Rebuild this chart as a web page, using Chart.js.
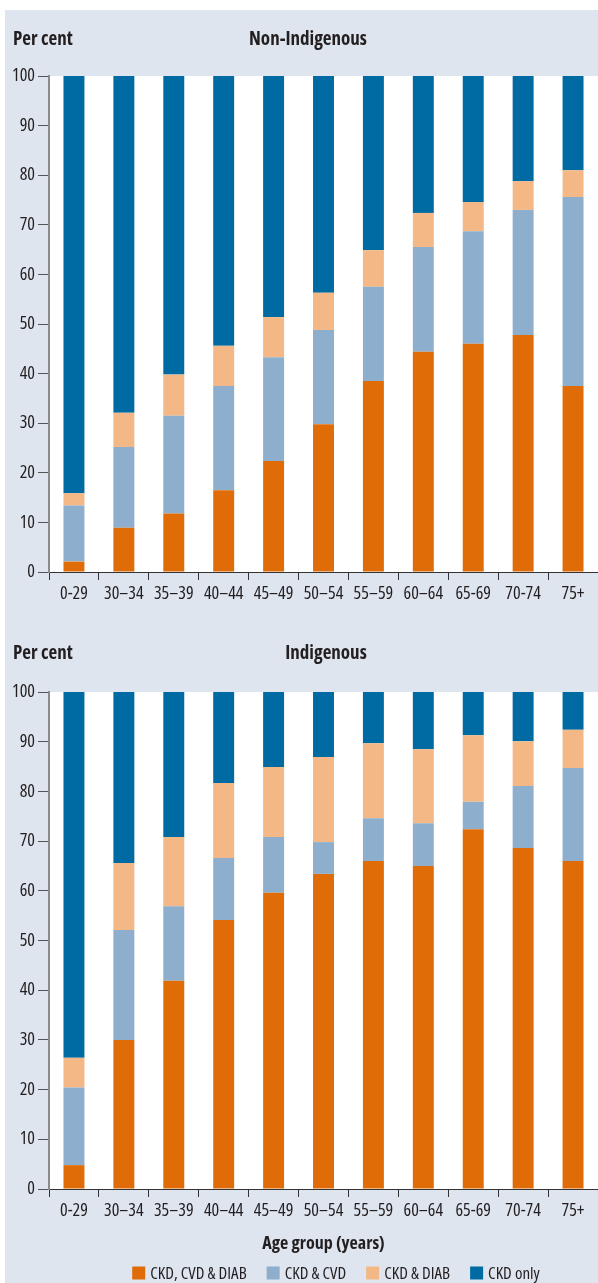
<!DOCTYPE html>
<html>
<head>
<meta charset="utf-8">
<script src="https://cdn.jsdelivr.net/npm/chart.js@4.4.1/dist/chart.umd.min.js"></script>
<style>
html,body{margin:0;padding:0;background:#ffffff;width:598px;height:1283px;overflow:hidden}
#panel{position:absolute;left:5px;top:10px;width:593px;height:1273px;background:#dfe5ef}
#w1{position:absolute;left:5px;top:10px;width:593px;height:600px}
#w2{position:absolute;left:5px;top:610px;width:593px;height:673px}
canvas{display:block}
</style>
</head>
<body>
<div id="panel"></div>
<div id="w1"><canvas id="c1" width="593" height="600"></canvas></div>
<div id="w2"><canvas id="c2" width="593" height="673"></canvas></div>
<script>
// ---- data ----
const ageGroups = ['0-29', '30\u201334', '35\u201339', '40\u201344', '45\u201349', '50\u201354', '55\u201359', '60\u201364', '65-69', '70-74', '75+'];
const seriesNames = ['CKD, CVD & DIAB', 'CKD & CVD', 'CKD & DIAB', 'CKD only'];
const seriesColors = ['#e06c08', '#8dafcd', '#f3b886', '#006ba3'];
const yTickValues = [0, 10, 20, 30, 40, 50, 60, 70, 80, 90, 100];

// Non-Indigenous (per cent)
const nonIndigCkdCvdDiab = [2.1, 8.9, 11.8, 16.5, 22.4, 29.8, 38.5, 44.4, 46.0, 47.8, 37.5];
const nonIndigCkdCvd     = [11.3, 16.3, 19.7, 21.0, 20.9, 19.0, 19.0, 21.1, 22.7, 25.2, 38.1];
const nonIndigCkdDiab    = [2.5, 6.9, 8.3, 8.1, 8.1, 7.5, 7.4, 6.9, 5.9, 5.8, 5.4];
const nonIndigCkdOnly    = [84.1, 67.9, 60.2, 54.4, 48.6, 43.7, 35.1, 27.6, 25.4, 21.2, 19.0];

// Indigenous (per cent)
const indigCkdCvdDiab = [4.8, 30.0, 41.9, 54.1, 59.6, 63.4, 66.0, 65.0, 72.4, 68.6, 66.0];
const indigCkdCvd     = [15.6, 22.1, 15.0, 12.5, 11.2, 6.4, 8.6, 8.6, 5.5, 12.5, 18.7];
const indigCkdDiab    = [6.0, 13.5, 13.9, 15.1, 14.1, 17.1, 15.1, 14.9, 13.4, 9.0, 7.7];
const indigCkdOnly    = [73.6, 34.4, 29.2, 18.3, 15.1, 13.1, 10.3, 11.5, 8.7, 9.9, 7.6];

// ---- styling ----
const FONT = "'Open Sans', 'DejaVu Sans Condensed', sans-serif";
const TEXT = '#231f20';

function makeDatasets(arrays) {
  return arrays.map((vals, i) => ({
    label: seriesNames[i],
    data: vals,
    backgroundColor: seriesColors[i],
    borderWidth: 0,
    barPercentage: 0.42,
    categoryPercentage: 1.0
  }));
}

const panelPlugin = {
  id: 'panelText',
  beforeDraw(chart) {
    const { ctx, chartArea: a } = chart;
    ctx.save();
    ctx.fillStyle = '#ffffff';
    ctx.fillRect(a.left, a.top, a.right - a.left, a.bottom - a.top);
    ctx.restore();
  },
  afterDraw(chart, args, opts) {
    const { ctx } = chart;
    ctx.save();
    ctx.fillStyle = TEXT;
    ctx.font = 'bold condensed 19px ' + FONT;
    ctx.textBaseline = 'alphabetic';
    ctx.textAlign = 'left';
    ctx.fillText(opts.yLabel, opts.yLabelX, opts.baseY);
    ctx.textAlign = 'center';
    ctx.fillText(opts.title, opts.titleX, opts.baseY);
    if (opts.legend) {
      const L = opts.legend;
      ctx.font = 'condensed ' + L.fontSize + 'px ' + FONT;
      const items = chart.data.datasets.map(d => ({ text: d.label, color: d.backgroundColor, w: ctx.measureText(d.label).width }));
      const total = items.reduce((s, it) => s + L.box + L.boxGap + it.w, 0) + L.itemGap * (items.length - 1);
      let x = L.centerX - total / 2;
      ctx.textAlign = 'left';
      ctx.textBaseline = 'middle';
      items.forEach(it => {
        ctx.fillStyle = it.color;
        ctx.fillRect(x, L.y - L.box / 2, L.box, L.box);
        x += L.box + L.boxGap;
        ctx.fillStyle = TEXT;
        ctx.fillText(it.text, x, L.y + 1);
        x += it.w + L.itemGap;
      });
    }
    ctx.restore();
  }
};

function makeChart(canvasId, arrays, cfg) {
  const xScale = {
    stacked: true,
    offset: true,
    grid: { display: true, drawOnChartArea: false, drawTicks: true, tickLength: 8, tickColor: '#333333', offset: true, lineWidth: 1 },
    border: { display: true, color: '#333333', width: 1 },
    ticks: { color: TEXT, font: { family: FONT, size: 18, weight: 'condensed' }, padding: 3, maxRotation: 0, autoSkip: false },
    afterFit(s) { s.height = cfg.xHeight; }
  };
  if (cfg.xTitle) {
    xScale.title = { display: true, text: cfg.xTitle, color: TEXT, font: { family: FONT, size: 18, weight: 'bold condensed' }, padding: { top: 4, bottom: 0 } };
  }
  return new Chart(document.getElementById(canvasId), {
    type: 'bar',
    data: { labels: ageGroups, datasets: makeDatasets(arrays) },
    options: {
      responsive: false,
      animation: false,
      devicePixelRatio: 1,
      layout: { padding: { top: cfg.padTop, bottom: cfg.padBottom, left: 0, right: 0 } },
      plugins: {
        legend: { display: false },
        tooltip: { enabled: false },
        title: { display: false },
        panelText: { yLabel: 'Per cent', yLabelX: 8, baseY: cfg.baseY, title: cfg.title, titleX: cfg.titleX, legend: cfg.legend || null }
      },
      scales: {
        x: xScale,
        y: {
          stacked: true,
          min: 0,
          max: 100,
          afterBuildTicks(s) { s.ticks = yTickValues.map(v => ({ value: v })); },
          grid: { display: true, drawOnChartArea: false, drawTicks: true, tickLength: 11, tickColor: '#555555', lineWidth: 1 },
          border: { display: true, color: '#8a8a8a', width: 2 },
          ticks: { color: TEXT, font: { family: FONT, size: 18, weight: 'condensed' }, padding: 3 },
          afterFit(s) { s.width = 44; }
        }
      }
    },
    plugins: [panelPlugin]
  });
}

makeChart('c1', [nonIndigCkdCvdDiab, nonIndigCkdCvd, nonIndigCkdDiab, nonIndigCkdOnly], {
  padTop: 66, padBottom: 0, xHeight: 38, baseY: 35, title: 'Non-Indigenous', titleX: 303
});

makeChart('c2', [indigCkdCvdDiab, indigCkdCvd, indigCkdDiab, indigCkdOnly], {
  padTop: 82, padBottom: 28, xHeight: 66, baseY: 49, title: 'Indigenous', titleX: 321,
  xTitle: 'Age group (years)',
  legend: { centerX: 331, y: 663, box: 13, boxGap: 5, itemGap: 20, fontSize: 17 }
});
</script>
</body>
</html>
